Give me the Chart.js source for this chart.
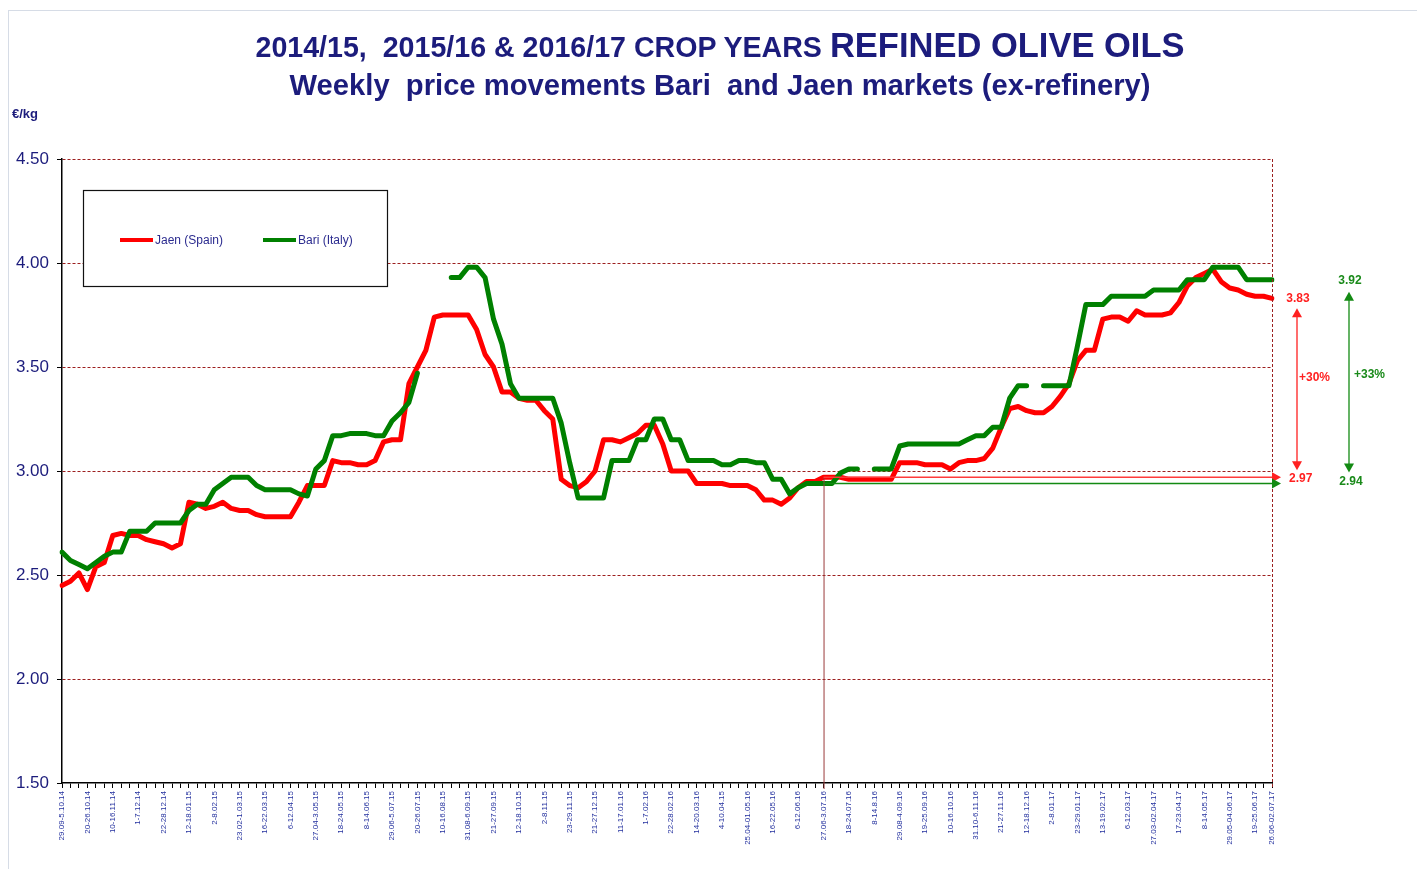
<!DOCTYPE html>
<html>
<head>
<meta charset="utf-8">
<script src="https://cdn.jsdelivr.net/npm/chart.js@4/dist/chart.umd.min.js"></script>
<style>
  body { margin: 0; background: #fff; font-family: "Liberation Sans", Arial, sans-serif; }
  #wrap { position: relative; width: 1417px; height: 869px; overflow: hidden; }
  #frame { position: absolute; left: 8px; top: 10px; right: -2px; bottom: -2px; border-left: 1px solid #d6dce6; border-top: 1px solid #d6dce6; }
  .title { position: absolute; left: 0; width: 1440px; text-align: center; color: #1c1c7c; font-weight: bold; white-space: pre; }
  #t1 { top: 25px; line-height: 40px; font-size: 28.6px; }
  #t1 span { font-size: 34.5px; }
  #t2 { top: 67px; line-height: 36px; font-size: 29.2px; }
  #unit { position: absolute; left: 12px; top: 106px; line-height: 16px; font-size: 13px; font-weight: bold; color: #1c1c7c; }
  #box { position: absolute; left: 0; top: 0; width: 1417px; height: 869px; }
</style>
</head>
<body>
<div id="wrap">
  <div id="frame"></div>
  <div id="box"><canvas id="chart"></canvas></div>
  <div class="title" id="t1">2014/15,  2015/16 &amp; 2016/17 CROP YEARS <span>REFINED OLIVE OILS</span></div>
  <div class="title" id="t2">Weekly  price movements Bari  and Jaen markets (ex-refinery)</div>
  <div id="unit">€/kg</div>
</div>
<script>
// tick labels, one every 3 weeks, the last one on the final week
const tickLabels = [
  '29.09-5.10.14', '20-26.10.14', '10-16.11.14', '1-7.12.14', '22-28.12.14', '12-18.01.15',
  '2-8.02.15', '23.02-1.03.15', '16-22.03.15', '6-12.04.15', '27.04-3.05.15', '18-24.05.15',
  '8-14.06.15', '29.06-5.07.15', '20-26.07.15', '10-16.08.15', '31.08-6.09.15', '21-27.09.15',
  '12-18.10.15', '2-8.11.15', '23-29.11.15', '21-27.12.15', '11-17.01.16', '1-7.02.16',
  '22-28.02.16', '14-20.03.16', '4-10.04.15', '25.04-01.05.16', '16-22.05.16', '6-12.06.16',
  '27.06-3.07.16', '18-24.07.16', '8-14.8.16', '29.08-4.09.16', '19-25.09.16', '10-16.10.16',
  '31.10-6.11.16', '21-27.11.16', '12-18.12.16', '2-8.01.17', '23-29.01.17', '13-19.02.17',
  '6-12.03.17', '27.03-02.04.17', '17-23.04.17', '8-14.05.17', '29.05-04.06.17', '19-25.06.17',
  '26.06-02.07.17'
];

// Jaen (Spain), €/kg weekly
const jaen = [
  2.45, 2.47, 2.51, 2.43, 2.54, 2.56, 2.69, 2.70, 2.69, 2.69, 2.67, 2.66, 2.65, 2.63, 2.65, 2.85,
  2.84, 2.82, 2.83, 2.85, 2.82, 2.81, 2.81, 2.79, 2.78, 2.78, 2.78, 2.78, 2.85, 2.93, 2.93, 2.93,
  3.05, 3.04, 3.04, 3.03, 3.03, 3.05, 3.14, 3.15, 3.15, 3.42, 3.50, 3.58, 3.74, 3.75, 3.75, 3.75,
  3.75, 3.68, 3.56, 3.50, 3.38, 3.38, 3.35, 3.34, 3.34, 3.29, 3.25, 2.96, 2.93, 2.92, 2.95, 3.00,
  3.15, 3.15, 3.14, 3.16, 3.18, 3.22, 3.22, 3.13, 3.00, 3.00, 3.00, 2.94, 2.94, 2.94, 2.94, 2.93,
  2.93, 2.93, 2.91, 2.86, 2.86, 2.84, 2.87, 2.92, 2.95, 2.95, 2.97, 2.97, 2.97, 2.96, 2.96, 2.96,
  2.96, 2.96, 2.96, 3.04, 3.04, 3.04, 3.03, 3.03, 3.03, 3.01, 3.04, 3.05, 3.05, 3.06, 3.11, 3.21,
  3.30, 3.31, 3.29, 3.28, 3.28, 3.31, 3.36, 3.42, 3.53, 3.58, 3.58, 3.73, 3.74, 3.74, 3.72, 3.77,
  3.75, 3.75, 3.75, 3.76, 3.81, 3.89, 3.93, 3.95, 3.97, 3.91, 3.88, 3.87, 3.85, 3.84, 3.84, 3.83
];

// Bari (Italy), €/kg weekly (null = no quotation)
const bari = [
  2.61, 2.57, 2.55, 2.53, 2.56, 2.59, 2.61, 2.61, 2.71, 2.71, 2.71, 2.75, 2.75, 2.75, 2.75, 2.81,
  2.84, 2.84, 2.91, 2.94, 2.97, 2.97, 2.97, 2.93, 2.91, 2.91, 2.91, 2.91, 2.89, 2.88, 3.01, 3.05,
  3.17, 3.17, 3.18, 3.18, 3.18, 3.17, 3.17, 3.24, 3.28, 3.33, 3.47, null, null, null, 3.93, 3.93,
  3.98, 3.98, 3.93, 3.73, 3.61, 3.42, 3.35, 3.35, 3.35, 3.35, 3.35, 3.23, 3.04, 2.87, 2.87, 2.87,
  2.87, 3.05, 3.05, 3.05, 3.15, 3.15, 3.25, 3.25, 3.15, 3.15, 3.05, 3.05, 3.05, 3.05, 3.03, 3.03,
  3.05, 3.05, 3.04, 3.04, 2.96, 2.96, 2.89, 2.92, 2.94, 2.94, 2.94, 2.94, 2.99, 3.01, 3.01, null,
  3.01, 3.01, 3.01, 3.12, 3.13, 3.13, 3.13, 3.13, 3.13, 3.13, 3.13, 3.15, 3.17, 3.17, 3.21, 3.21,
  3.35, 3.41, 3.41, null, 3.41, 3.41, 3.41, 3.41, 3.60, 3.80, 3.80, 3.80, 3.84, 3.84, 3.84, 3.84,
  3.84, 3.87, 3.87, 3.87, 3.87, 3.92, 3.92, 3.92, 3.98, 3.98, 3.98, 3.98, 3.92, 3.92, 3.92, 3.92
];

// change since end of June 2016
const markIndex = 90;
const jaenFrom = 2.97, jaenTo = 3.83, jaenChange = '+30%';
const bariFrom = 2.94, bariTo = 3.92, bariChange = '+33%';

const labels = jaen.map(() => '');
tickLabels.forEach((t, k) => { labels[Math.min(k * 3, labels.length - 1)] = t; });

const navy = '#1c1c7c';
const gridRed = '#9c1f1f';
const red = '#ff0000';
const green = '#008000';

function head(ctx, x, y, dir, color) {
  ctx.fillStyle = color;
  ctx.beginPath();
  if (dir === 'right') { ctx.moveTo(x, y); ctx.lineTo(x - 9, y - 5); ctx.lineTo(x - 9, y + 5); }
  if (dir === 'up') { ctx.moveTo(x, y); ctx.lineTo(x - 5, y + 9); ctx.lineTo(x + 5, y + 9); }
  if (dir === 'down') { ctx.moveTo(x, y); ctx.lineTo(x - 5, y - 9); ctx.lineTo(x + 5, y - 9); }
  ctx.closePath();
  ctx.fill();
}

function vArrow(ctx, x, yTop, yBot, color) {
  ctx.strokeStyle = color;
  ctx.lineWidth = 1.3;
  ctx.beginPath(); ctx.moveTo(x, yTop + 5); ctx.lineTo(x, yBot - 5); ctx.stroke();
  head(ctx, x, yTop, 'up', color);
  head(ctx, x, yBot, 'down', color);
}

const decor = {
  id: 'decor',
  afterDraw(chart) {
    const { ctx, chartArea: a, scales: { x, y } } = chart;
    ctx.save();

    // dashed right border
    ctx.strokeStyle = gridRed;
    ctx.lineWidth = 1;
    ctx.setLineDash([3, 2]);
    ctx.beginPath(); ctx.moveTo(a.right + 0.5, a.top); ctx.lineTo(a.right + 0.5, a.bottom + 5); ctx.stroke();
    ctx.setLineDash([]);

    // reference week line
    const mx = x.getPixelForValue(markIndex);
    ctx.strokeStyle = '#9a3b3b';
    ctx.beginPath(); ctx.moveTo(mx + 0.5, a.bottom + 6); ctx.lineTo(mx + 0.5, y.getPixelForValue(jaenFrom)); ctx.stroke();

    // horizontal arrows at the starting levels
    const yr0 = y.getPixelForValue(jaenFrom), yg0 = y.getPixelForValue(bariFrom);
    const tip = a.right + 9;
    ctx.lineWidth = 1.3;
    ctx.strokeStyle = '#ff3b3b';
    ctx.beginPath(); ctx.moveTo(mx, yr0); ctx.lineTo(tip - 6, yr0); ctx.stroke();
    head(ctx, tip, yr0, 'right', '#ff2020');
    ctx.strokeStyle = '#138a13';
    ctx.beginPath(); ctx.moveTo(mx, yg0); ctx.lineTo(tip - 6, yg0); ctx.stroke();
    head(ctx, tip, yg0, 'right', '#138a13');

    // vertical change arrows
    const yr1 = y.getPixelForValue(jaenTo), yg1 = y.getPixelForValue(bariTo);
    const rx = a.right + 25, gx = a.right + 77;
    vArrow(ctx, rx, yr1 + 10, yr0 - 7, '#ff2020');
    vArrow(ctx, gx, yg1 + 12, yg0 - 11, '#138a13');

    ctx.font = 'bold 12px "Liberation Sans", Arial, sans-serif';
    ctx.textBaseline = 'middle';
    ctx.fillStyle = '#ff2020';
    ctx.textAlign = 'center';
    ctx.fillText(jaenTo.toFixed(2), rx + 1, yr1);
    ctx.textAlign = 'left';
    ctx.fillText(jaenFrom.toFixed(2), a.right + 17, yr0 + 1);
    ctx.fillText(jaenChange, rx + 2, (yr0 + yr1) / 2 - 10);
    ctx.fillStyle = '#1a8a1a';
    ctx.textAlign = 'center';
    ctx.fillText(bariTo.toFixed(2), gx + 1, yg1 + 1);
    ctx.fillText(bariFrom.toFixed(2), gx + 2, yg0 - 2);
    ctx.textAlign = 'left';
    ctx.fillText(bariChange, gx + 5, (yg0 + yg1) / 2 - 7);

    // legend box
    const bx = a.left + 21, by = a.top + 31, bw = 304, bh = 96;
    ctx.fillStyle = '#fff';
    ctx.fillRect(bx, by, bw, bh);
    ctx.strokeStyle = '#111';
    ctx.lineWidth = 1.2;
    ctx.strokeRect(bx + 0.5, by + 0.5, bw, bh);
    ctx.font = '12px "Liberation Sans", Arial, sans-serif';
    chart.data.datasets.forEach((ds, i) => {
      const lx = bx + 37 + i * 143, ly = by + 50;
      ctx.strokeStyle = ds.borderColor;
      ctx.lineWidth = 4;
      ctx.beginPath(); ctx.moveTo(lx, ly); ctx.lineTo(lx + 33, ly); ctx.stroke();
      ctx.fillStyle = '#2b2b8f';
      ctx.textAlign = 'left';
      ctx.fillText(ds.label, lx + 35, ly + 1);
    });

    ctx.restore();
  }
};

const ctx = document.getElementById('chart').getContext('2d');

const chart = new Chart(ctx, {
  type: 'line',
  data: {
    labels: labels,
    datasets: [{
      label: 'Jaen (Spain)',
      data: jaen,
      borderColor: red,
      borderWidth: 5,
      pointRadius: 0,
      order: 1,
      borderCapStyle: 'round',
      borderJoinStyle: 'round'
    }, {
      label: 'Bari (Italy)',
      data: bari,
      borderColor: green,
      borderWidth: 5,
      pointRadius: 0,
      order: 0,
      spanGaps: false,
      borderCapStyle: 'round',
      borderJoinStyle: 'round'
    }]
  },
  options: {
    responsive: true,
    maintainAspectRatio: false,
    animation: false,
    layout: { padding: { top: 159, right: 145, left: 0, bottom: 0 } },
    plugins: {
      legend: { display: false },
      tooltip: { enabled: false }
    },
    scales: {
      x: {
        offset: false,
        grid: { drawOnChartArea: false, tickLength: 5, tickColor: '#000' },
        border: { color: '#000', width: 1.5 },
        ticks: {
          autoSkip: false,
          minRotation: 90,
          maxRotation: 90,
          padding: 3,
          color: '#23309e',
          font: { size: 8, family: '"Liberation Sans", Arial, sans-serif' }
        },
        afterFit: s => { s.height = 86; }
      },
      y: {
        min: 1.5,
        max: 4.5,
        ticks: {
          stepSize: 0.5,
          padding: 8,
          color: navy,
          font: { size: 17, family: '"Liberation Sans", Arial, sans-serif' },
          callback: v => v.toFixed(2)
        },
        grid: {
          color: c => (c.tick && c.tick.value === 1.5) ? 'rgba(0,0,0,0)' : gridRed,
          lineWidth: 1,
          tickLength: 5,
          tickColor: '#000'
        },
        border: { color: '#000', width: 1.5, dash: [3, 2] },
        afterFit: s => { s.width = 62; }
      }
    }
  },
  plugins: [decor]
});
</script>
</body>
</html>
